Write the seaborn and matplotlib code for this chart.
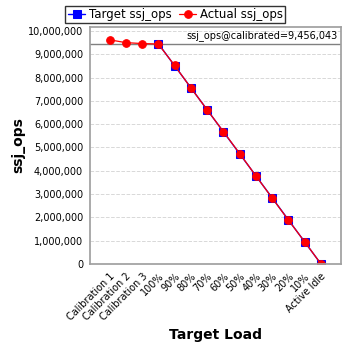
import matplotlib
matplotlib.use("Agg")
import matplotlib.pyplot as plt
import seaborn as sns
import pandas as pd
from matplotlib.ticker import FuncFormatter

categories = ["Calibration 1", "Calibration 2", "Calibration 3", "100%", "90%", "80%",
              "70%", "60%", "50%", "40%", "30%", "20%", "10%", "Active Idle"]
target_ops = [None, None, None, 9456043, 8510439, 7564834, 6619230, 5673626,
              4728022, 3782417, 2836813, 1891209, 945604, 0]
actual_ops = [9620000, 9500000, 9460000, 9440000, 8520000, 7560000, 6620000, 5680000,
              4740000, 3780000, 2830000, 1880000, 950000, 0]
calibrated = 9456043

sns.set_theme(style="white")
plt.rcParams['font.family'] = ['DejaVu Sans']
plt.rcParams['text.color'] = 'black'
plt.rcParams['axes.labelcolor'] = 'black'
plt.rcParams['xtick.color'] = 'black'
plt.rcParams['ytick.color'] = 'black'

df = pd.DataFrame({"cat": categories, "x": range(len(categories)),
                   "target": target_ops, "actual": actual_ops})

fig = plt.figure(figsize=(3.48, 3.48), dpi=100)
ax = fig.add_axes([90/348, 1 - 264/348, 251/348, (264 - 27)/348])

dt = df.dropna(subset=["target"])
sns.lineplot(data=dt, x="x", y="target", ax=ax, color="#0000ff", marker="s",
             markersize=5.5, markeredgecolor="#0000ff", linewidth=1.0, label="Target ssj_ops")
sns.lineplot(data=df, x="x", y="actual", ax=ax, color="#ff0000", marker="o",
             markersize=5.5, markeredgecolor="#ff0000", linewidth=0.9, label="Actual ssj_ops")

ax.axhline(calibrated, color="#808080", linewidth=1.0, zorder=1)
ax.text(0.985, calibrated + 120000, "ssj_ops@calibrated=9,456,043", transform=ax.get_yaxis_transform(),
        ha="right", va="bottom", fontsize=7)

ax.set_xlim(-1.2, len(categories) - 1 + 1.23)
ax.set_ylim(0, 10170000)
ax.set_yticks(range(0, 10000001, 1000000))
ax.yaxis.set_major_formatter(FuncFormatter(lambda v, p: f"{int(v):,}"))
ax.set_xticks(range(len(categories)))
ax.set_xticklabels(categories, rotation=45, ha="right", rotation_mode="anchor", fontsize=7)
ax.tick_params(axis="y", labelsize=7, length=3, color="#808080", pad=2)
ax.tick_params(axis="x", length=3, color="#808080", pad=2)
ax.grid(axis="y", color="#d8d8d8", linestyle="--", linewidth=0.7)
ax.set_axisbelow(True)
for s in ax.spines.values():
    s.set_color("#a0a0a0")
ax.set_xlabel("Target Load", fontsize=10, fontweight="bold")
ax.set_ylabel("ssj_ops", fontsize=10, fontweight="bold", labelpad=2)

ax.legend(loc="upper center", bbox_to_anchor=(0.34, 1.115), ncol=2, frameon=True,
          fontsize=8.5, handlelength=1.5, handletextpad=0.3, columnspacing=0.6,
          borderpad=0.2, fancybox=False, edgecolor="black")
leg = ax.get_legend()
leg.get_frame().set_linewidth(1.0)

fig.savefig("out.png", dpi=100)
